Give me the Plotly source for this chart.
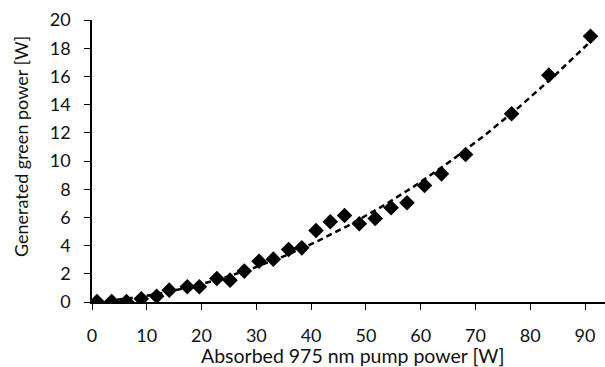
import numpy as np
import plotly.graph_objects as go

pump_w = [0.9, 3.6, 6.3, 9.0, 11.8, 14.1, 17.4, 19.6, 22.8, 25.2, 27.8, 30.5, 33.1,
          35.9, 38.3, 40.9, 43.5, 46.1, 48.8, 51.7, 54.6, 57.5, 60.7, 63.8, 68.2,
          76.6, 83.4, 91.0]
green_w = [0.03, 0.03, 0.03, 0.23, 0.41, 0.84, 1.08, 1.08, 1.67, 1.55, 2.19, 2.89, 3.04,
           3.72, 3.84, 5.07, 5.69, 6.13, 5.55, 5.92, 6.68, 7.04, 8.26, 9.09, 10.46,
           13.35, 16.09, 18.85]
x_ticks = [0, 10, 20, 30, 40, 50, 60, 70, 80, 90]
y_ticks = [0, 2, 4, 6, 8, 10, 12, 14, 16, 18, 20]
x_title = "Absorbed 975 nm pump power [W]"
y_title = "Generated green power [W]"

coef = np.polyfit(pump_w, green_w, 2)
xf = np.linspace(min(pump_w), max(pump_w), 200)
yf = np.polyval(coef, xf)
mask = yf >= 0
xf, yf = xf[mask], yf[mask]

font = "Lato, Carlito, Calibri, sans-serif"
txt = "#111"
fig = go.Figure()
fig.add_trace(go.Scatter(x=xf, y=yf, mode="lines",
                         line=dict(color="black", width=2.5, dash="6px,4px"),
                         hoverinfo="skip", showlegend=False))
fig.add_trace(go.Scatter(x=pump_w, y=green_w, mode="markers",
                         marker=dict(symbol="diamond", size=12, color="black"),
                         showlegend=False))
fig.update_layout(
    width=605, height=367,
    margin=dict(l=92, r=0, t=20, b=64.6, autoexpand=False),
    plot_bgcolor="white", paper_bgcolor="white",
    font=dict(family=font, size=18, color=txt),
    annotations=[
        dict(text=x_title, xref="paper", yref="paper", x=0.508, y=-0.2358,
             xanchor="center", yanchor="bottom", showarrow=False, borderpad=0,
             font=dict(family=font, size=19.5, color=txt)),
        dict(text=y_title, xref="paper", yref="paper", x=-0.138, y=0.55,
             xanchor="center", yanchor="middle", showarrow=False, textangle=-90,
             font=dict(family=font, size=18, color=txt)),
    ],
)
fig.update_xaxes(range=[0, 93.65], tickvals=x_ticks, showgrid=False, zeroline=False,
                 showline=True, linecolor="black", linewidth=1.5,
                 ticks="outside", ticklen=6, tickcolor="black", tickwidth=1.2,
                 ticklabelstandoff=11, automargin=False)
fig.update_yaxes(range=[0, 20], tickvals=y_ticks, showgrid=False, zeroline=False,
                 showline=True, linecolor="black", linewidth=1.5,
                 ticks="outside", ticklen=6, tickcolor="black", tickwidth=1.2,
                 ticklabelstandoff=10, automargin=False)
fig.write_html("out.html", config={"displayModeBar": False},
               post_script="document.body.style.margin='0';document.body.style.padding='0';")
